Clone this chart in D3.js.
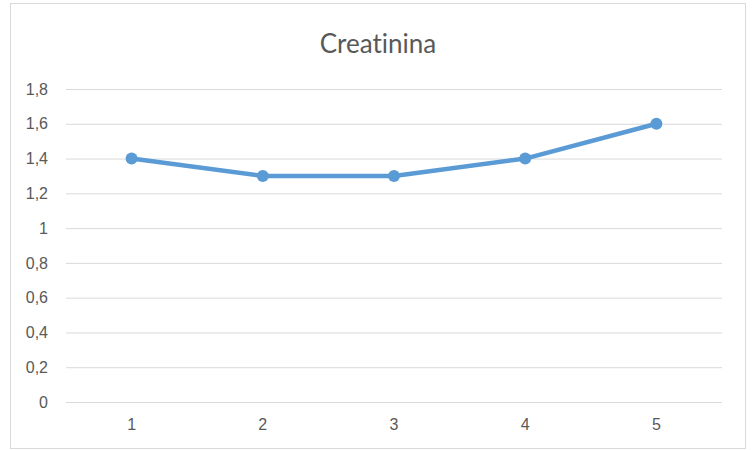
<!DOCTYPE html>
<html>
<head>
<meta charset="utf-8">
<script src="https://cdn.jsdelivr.net/npm/d3@7"></script>
<style>
  html, body { margin: 0; padding: 0; background: #fff; }
  svg { display: block; font-family: Lato, "Open Sans", sans-serif; font-variant-ligatures: none; }
</style>
</head>
<body>
<svg id="chart" width="755" height="450"></svg>
<script>
// Creatinine readings per sample
const categories = ["1", "2", "3", "4", "5"];
const values = [1.4, 1.3, 1.3, 1.4, 1.6];
const yTicks = [0, 0.2, 0.4, 0.6, 0.8, 1, 1.2, 1.4, 1.6, 1.8];
const title = "Creatinina";

const svg = d3.select("#chart");
const W = 755, H = 450;
const margin = { left: 66, right: 33, top: 89, bottom: 48 };

// chart frame
svg.append("rect")
  .attr("x", 10.5).attr("y", 3.5)
  .attr("width", 735).attr("height", 445)
  .attr("fill", "#fff")
  .attr("stroke", "#d9d9d9").attr("stroke-width", 1);

const x = d3.scaleBand()
  .domain(categories)
  .range([margin.left, W - margin.right]);

const y = d3.scaleLinear()
  .domain([0, 1.8])
  .range([H - margin.bottom, margin.top]);

const fmt = v => String(+v.toFixed(1)).replace(".", ",");

// horizontal gridlines
const yAxis = d3.axisLeft(y)
  .tickValues(yTicks)
  .tickSize(-(W - margin.right - margin.left))
  .tickPadding(18)
  .tickFormat(fmt);

const gy = svg.append("g")
  .attr("transform", `translate(${margin.left},0)`)
  .call(yAxis);
gy.select(".domain").remove();
gy.selectAll(".tick line").attr("stroke", "#d9d9d9").attr("stroke-width", 1);
gy.selectAll(".tick text")
  .attr("fill", "#595959")
  .style("font-size", "16px");

// category labels
const xAxis = d3.axisBottom(x).tickSize(0).tickPadding(17);
const gx = svg.append("g")
  .attr("transform", `translate(0,${H - margin.bottom})`)
  .call(xAxis);
gx.select(".domain").remove();
gx.selectAll(".tick text")
  .attr("fill", "#595959")
  .style("font-size", "16px");

// title
svg.append("text")
  .attr("x", 378).attr("y", 53)
  .attr("text-anchor", "middle")
  .attr("fill", "#595959")
  .style("font-size", "26px")
  .text(title);

// series line and markers
const cx = (d, i) => x(categories[i]) + x.bandwidth() / 2;
const line = d3.line()
  .x((d, i) => cx(d, i))
  .y(d => y(d));

svg.append("path")
  .datum(values)
  .attr("d", line)
  .attr("fill", "none")
  .attr("stroke", "#5b9bd5")
  .attr("stroke-width", 4.5)
  .attr("stroke-linejoin", "round")
  .attr("stroke-linecap", "round");

svg.selectAll("circle.pt")
  .data(values)
  .join("circle")
  .attr("class", "pt")
  .attr("cx", (d, i) => cx(d, i))
  .attr("cy", d => y(d))
  .attr("r", 6)
  .attr("fill", "#5b9bd5");
</script>
</body>
</html>
